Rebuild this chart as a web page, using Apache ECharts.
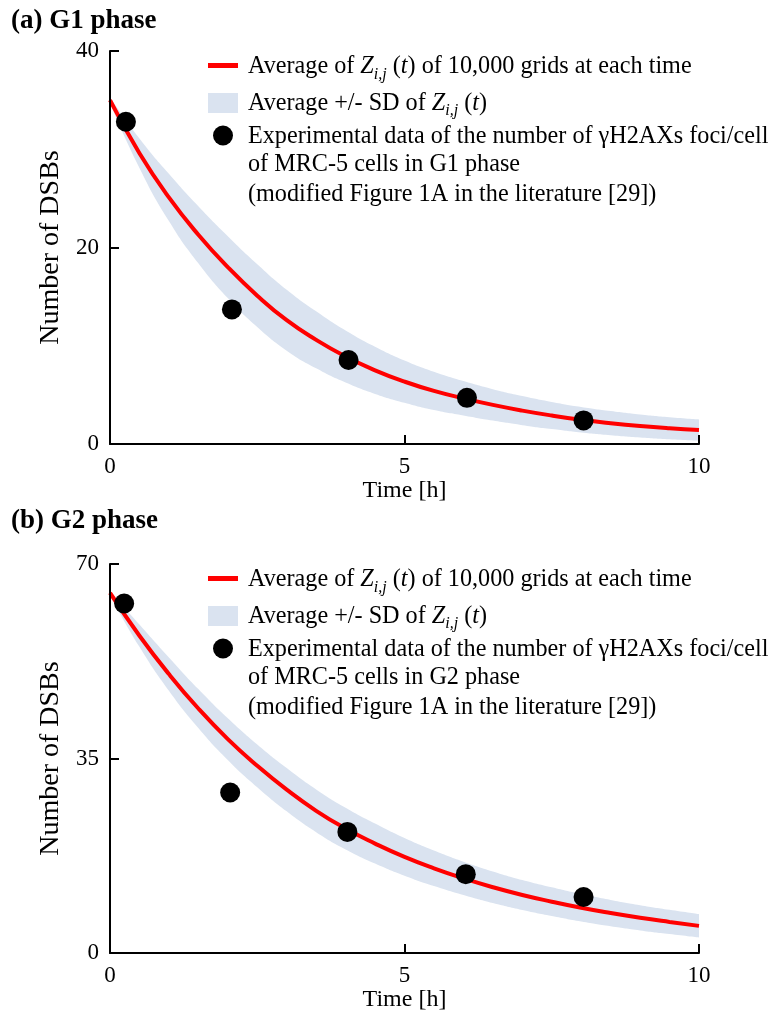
<!DOCTYPE html>
<html>
<head>
<meta charset="utf-8">
<script src="https://cdn.jsdelivr.net/npm/echarts@6/dist/echarts.min.js"></script>
<style>
  html, body { margin: 0; padding: 0; background: #fff; }
  #chart { width: 773px; height: 1013px; }
</style>
</head>
<body>
<div id="chart"></div>
<script>
// Simulation time grid [h]
const timeGrid = [0, 0.5, 1, 1.5, 2, 2.5, 3, 3.5, 4, 4.5, 5, 5.5, 6, 6.5, 7, 7.5, 8, 8.5, 9, 9.5, 10];

// (a) G1 phase: average of Z_ij(t) and the average +/- SD envelope
const g1Mean = [35.0, 29.6, 25.1, 21.3, 18.0, 15.1, 12.6, 10.6, 8.9, 7.5, 6.35, 5.4, 4.65, 3.98, 3.4, 2.9, 2.47, 2.12, 1.83, 1.6, 1.42];
const g1Low  = [34.7, 28.1, 22.7, 18.4, 14.85, 11.9, 9.5, 7.7, 6.25, 5.1, 4.2, 3.45, 2.9, 2.38, 1.92, 1.52, 1.17, 0.89, 0.66, 0.48, 0.34];
const g1High = [35.3, 31.1, 27.5, 24.2, 21.15, 18.3, 15.7, 13.5, 11.55, 9.9, 8.5, 7.35, 6.4, 5.58, 4.88, 4.28, 3.77, 3.35, 3.0, 2.72, 2.5];
// (a) experimental gammaH2AX foci/cell
const g1ExpTime = [0.27, 2.07, 4.05, 6.06, 8.04];
const g1ExpFoci = [32.8, 13.7, 8.55, 4.7, 2.4];

// (b) G2 phase
const g2Mean = [64.8, 57.1, 50.2, 44.0, 38.5, 33.7, 29.4, 25.6, 22.4, 19.7, 17.3, 15.25, 13.45, 11.85, 10.45, 9.25, 8.15, 7.2, 6.35, 5.6, 4.9];
const g2Low  = [64.4, 55.1, 47.2, 40.5, 34.75, 29.85, 25.5, 21.75, 18.65, 16.1, 13.9, 12.05, 10.45, 9.0, 7.75, 6.67, 5.68, 4.83, 4.08, 3.42, 2.8];
const g2High = [65.2, 59.1, 53.2, 47.5, 42.25, 37.55, 33.3, 29.45, 26.15, 23.3, 20.7, 18.45, 16.45, 14.7, 13.15, 11.83, 10.62, 9.57, 8.62, 7.78, 7.0];
const g2ExpTime = [0.24, 2.04, 4.03, 6.04, 8.04];
const g2ExpFoci = [62.9, 28.9, 21.8, 14.2, 10.1];

// Axis ranges and ticks
const xTicks = { min: 0, max: 10, interval: 5 };
const g1YTicks = { min: 0, max: 40, interval: 20 };
const g2YTicks = { min: 0, max: 70, interval: 35 };

const panelTitles = ['(a) G1 phase', '(b) G2 phase'];
const xName = 'Time [h]';
const yName = 'Number of DSBs';
const phaseNames = ['G1', 'G2'];

const SERIF = '"Liberation Serif", "Times New Roman", serif';
const RED = '#ff0000';
const BAND = '#dae3f0';
const SMOOTH = 0.5;

const pairs = (xs, ys) => xs.map((x, i) => [x, ys[i]]);

function axisCommon() {
  return {
    z: 6,
    axisLine: { show: true, onZero: false, lineStyle: { color: '#000', width: 2 } },
    axisTick: { show: true, inside: true, length: 9, lineStyle: { color: '#000', width: 2 } },
    splitLine: { show: false },
    axisLabel: { color: '#000', fontFamily: SERIF, fontSize: 23, margin: 11 },
    nameLocation: 'middle',
    nameTextStyle: { color: '#000', fontFamily: SERIF, fontSize: 24 }
  };
}

// The SD envelope: upper edge filled in the band colour, lower edge
// filled in white on top of it, leaving only the region between them.
function panelSeries(idx, low, high, mean, expT, expY) {
  return [
    {
      type: 'line', xAxisIndex: idx, yAxisIndex: idx,
      data: pairs(timeGrid, high), smooth: SMOOTH, symbol: 'none',
      lineStyle: { width: 0, opacity: 0 }, areaStyle: { color: BAND, opacity: 1 },
      silent: true, z: 1
    },
    {
      type: 'line', xAxisIndex: idx, yAxisIndex: idx,
      data: pairs(timeGrid, low), smooth: SMOOTH, symbol: 'none',
      lineStyle: { width: 0, opacity: 0 }, areaStyle: { color: '#ffffff', opacity: 1 },
      silent: true, z: 2
    },
    {
      type: 'line', xAxisIndex: idx, yAxisIndex: idx,
      data: pairs(timeGrid, mean), smooth: SMOOTH, symbol: 'none',
      lineStyle: { color: RED, width: 4 }, z: 3
    },
    {
      type: 'scatter', xAxisIndex: idx, yAxisIndex: idx,
      data: pairs(expT, expY), symbol: 'circle', symbolSize: 20,
      itemStyle: { color: '#000', opacity: 1 }, z: 4
    }
  ];
}

// Legend block drawn beside each panel
function legendBlock(dy, phase) {
  const FS = 24.2;
  const base = { fontFamily: SERIF, fontSize: FS, fill: '#000' };
  const rich = {
    n: { fontFamily: SERIF, fontSize: FS, color: '#000', lineHeight: 32 },
    z: { fontFamily: SERIF, fontSize: FS, fontStyle: 'italic', color: '#000', lineHeight: 32 },
    s: { fontFamily: SERIF, fontSize: 16, fontStyle: 'italic', color: '#000', lineHeight: 16, verticalAlign: 'bottom' }
  };
  const tx = 248;
  const line = (text, y) => ({
    type: 'text', silent: true, z: 10,
    style: Object.assign({ text, x: tx, y: y + dy, verticalAlign: 'middle', align: 'left', rich }, base)
  });
  return [
    { type: 'rect', silent: true, z: 10, shape: { x: 208, y: 63 + dy, width: 30, height: 5 }, style: { fill: RED } },
    { type: 'rect', silent: true, z: 10, shape: { x: 208, y: 93 + dy, width: 30, height: 20 }, style: { fill: BAND } },
    { type: 'circle', silent: true, z: 10, shape: { cx: 223, cy: 135.5 + dy, r: 10 }, style: { fill: '#000' } },
    line('{n|Average of }{z|Z}{s|i,j}{n| (}{z|t}{n|) of 10,000 grids at each time}', 66.5),
    line('{n|Average +/- SD of }{z|Z}{s|i,j}{n| (}{z|t}{n|)}', 103.2),
    line('{n|Experimental data of the number of γH2AXs foci/cell}', 136.5),
    line('{n|of MRC-5 cells in ' + phase + ' phase}', 164.8),
    line('{n|(modified Figure 1A in the literature [29])}', 194.8)
  ];
}

const option = {
  animation: false,
  backgroundColor: '#fff',
  title: panelTitles.map((t, i) => ({
    text: t, left: 11, top: i === 0 ? 8 : 508,
    padding: 0,
    textStyle: { fontFamily: SERIF, fontWeight: 'bold', fontSize: 27, color: '#000' }
  })),
  grid: [
    { left: 110, top: 51, width: 589, height: 393 },
    { left: 110, top: 564, width: 589, height: 394 }
  ],
  xAxis: [0, 1].map(i => Object.assign(axisCommon(), {
    type: 'value', gridIndex: i, min: xTicks.min, max: xTicks.max, interval: xTicks.interval,
    name: xName, nameGap: 32
  })),
  yAxis: [g1YTicks, g2YTicks].map((yt, i) => {
    const a = Object.assign(axisCommon(), {
      type: 'value', gridIndex: i, min: yt.min, max: yt.max, interval: yt.interval,
      name: yName, nameGap: 42
    });
    a.nameTextStyle = Object.assign({}, a.nameTextStyle, { fontSize: 28 });
    return a;
  }),
  series: [].concat(
    panelSeries(0, g1Low, g1High, g1Mean, g1ExpTime, g1ExpFoci),
    panelSeries(1, g2Low, g2High, g2Mean, g2ExpTime, g2ExpFoci)
  ),
  graphic: [].concat(legendBlock(0, phaseNames[0]), legendBlock(513, phaseNames[1]))
};

const chart = echarts.init(document.getElementById('chart'), null, { renderer: 'canvas' });
chart.setOption(option);
</script>
</body>
</html>
